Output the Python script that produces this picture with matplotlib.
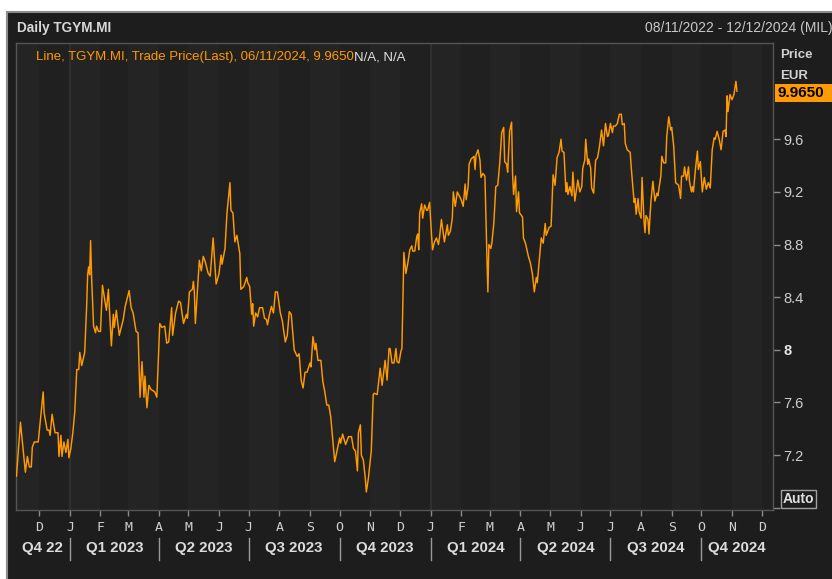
import numpy as np
import pandas as pd
import matplotlib
matplotlib.use("Agg")
import matplotlib.pyplot as plt
import matplotlib.dates as mdates
import matplotlib.transforms as mtransforms
from matplotlib.patches import Rectangle
from matplotlib.lines import Line2D

# ---------------- data ----------------
start_date = "2022-11-08"
day_offsets = [
    0, 4, 6, 9, 11, 13, 15, 16, 18, 22, 27, 28, 31, 33, 34, 36, 39, 42, 43, 45,
    46, 48, 50, 52, 53, 55, 57, 59, 61, 63, 64, 66, 69, 71, 72, 73, 74, 75, 76, 78,
    80, 81, 83, 85, 87, 91, 93, 96, 98, 99, 101, 104, 108, 110, 114, 116, 118, 121, 123, 125,
    127, 129, 130, 132, 134, 136, 140, 142, 145, 147, 150, 152, 154, 157, 158, 161, 164, 166, 169, 172,
    173, 175, 178, 179, 180, 181, 185, 187, 189, 191, 194, 196, 199, 202, 205, 207, 208, 211, 213, 216,
    217, 219, 221, 223, 226, 227, 230, 233, 234, 236, 238, 239, 240, 242, 244, 246, 249, 251, 253, 254,
    256, 258, 260, 262, 264, 265, 267, 269, 272, 274, 276, 278, 281, 284, 286, 288, 290, 292, 294, 297,
    298, 300, 302, 303, 305, 308, 310, 312, 314, 316, 318, 320, 322, 324, 327, 328, 330, 333, 336, 339,
    341, 343, 345, 346, 348, 349, 351, 353, 354, 356, 357, 359, 361, 362, 365, 368, 370, 373, 375, 377,
    378, 380, 382, 384, 385, 387, 389, 390, 392, 394, 396, 398, 400, 401, 403, 405, 406, 407, 408, 410,
    411, 413, 415, 416, 418, 420, 421, 423, 425, 427, 428, 430, 433, 436, 437, 439, 441, 442, 444, 446,
    448, 450, 452, 454, 455, 457, 458, 460, 463, 464, 465, 467, 469, 470, 472, 474, 476, 477, 478, 480,
    481, 483, 485, 487, 489, 491, 493, 494, 496, 497, 499, 501, 502, 503, 505, 506, 508, 509, 512, 513,
    515, 518, 520, 522, 524, 526, 527, 530, 531, 533, 535, 536, 539, 541, 543, 545, 547, 549, 551, 552,
    554, 556, 557, 558, 560, 562, 563, 565, 567, 568, 570, 572, 573, 575, 576, 578, 579, 581, 582, 584,
    586, 588, 590, 592, 594, 596, 598, 599, 601, 603, 604, 606, 608, 610, 612, 613, 615, 616, 618, 621,
    622, 625, 626, 627, 629, 630, 632, 633, 635, 636, 637, 639, 640, 642, 644, 646, 648, 649, 652, 653,
    655, 657, 658, 660, 662, 663, 665, 667, 670, 672, 673, 675, 676, 678, 680, 681, 683, 684, 685, 687,
    689, 690, 692, 693, 694, 696, 698, 700, 702, 704, 706, 707, 709, 711, 713, 715, 717, 718, 719, 720,
    722, 724, 726, 728, 729,
]
prices = [
    7.04, 7.45, 7.30, 7.07, 7.19, 7.11, 7.11, 7.26, 7.30, 7.30, 7.68, 7.52, 7.39, 7.39, 7.35, 7.51, 7.37, 7.37, 7.19, 7.35,
    7.19, 7.30, 7.22, 7.32, 7.18, 7.25, 7.37, 7.53, 7.85, 7.85, 7.98, 7.88, 7.98, 8.33, 8.57, 8.63, 8.57, 8.83, 8.55, 8.18,
    8.13, 8.18, 8.14, 8.14, 8.49, 8.30, 8.46, 8.03, 8.27, 8.17, 8.30, 8.11, 8.23, 8.33, 8.45, 8.32, 8.28, 8.14, 8.13, 7.64,
    7.91, 7.64, 7.80, 7.56, 7.73, 7.70, 7.68, 7.64, 8.20, 8.17, 8.18, 8.05, 8.06, 8.32, 8.11, 8.28, 8.37, 8.36, 8.20, 8.27,
    8.24, 8.44, 8.46, 8.52, 8.44, 8.20, 8.68, 8.60, 8.71, 8.67, 8.58, 8.56, 8.85, 8.50, 8.58, 8.72, 8.65, 8.77, 9.04, 9.27,
    9.06, 9.04, 8.82, 8.87, 8.73, 8.46, 8.48, 8.55, 8.51, 8.48, 8.27, 8.35, 8.18, 8.28, 8.25, 8.32, 8.32, 8.24, 8.23, 8.19,
    8.27, 8.33, 8.28, 8.44, 8.44, 8.39, 8.28, 8.22, 8.06, 8.11, 8.29, 8.27, 8.00, 7.95, 7.97, 7.77, 7.71, 7.83, 7.83, 7.90,
    7.87, 8.10, 8.00, 8.05, 7.92, 7.92, 7.76, 7.68, 7.58, 7.58, 7.49, 7.32, 7.15, 7.22, 7.33, 7.29, 7.36, 7.28, 7.34, 7.34,
    7.25, 7.23, 7.08, 7.37, 7.43, 7.20, 7.16, 7.02, 6.92, 7.02, 7.09, 7.23, 7.66, 7.67, 7.66, 7.86, 7.73, 7.92, 7.77, 8.01,
    8.01, 7.90, 7.90, 8.01, 7.91, 7.90, 7.99, 8.01, 8.74, 8.58, 8.66, 8.76, 8.79, 8.75, 8.75, 8.86, 8.88, 8.76, 9.04, 9.11,
    9.00, 9.10, 9.06, 9.06, 9.12, 8.87, 8.76, 8.82, 8.85, 8.80, 8.85, 8.99, 8.82, 8.95, 8.87, 8.90, 9.00, 9.20, 9.09, 9.20,
    9.17, 9.14, 9.09, 9.26, 9.14, 9.24, 9.41, 9.45, 9.47, 9.37, 9.48, 9.52, 9.44, 9.31, 9.34, 9.32, 8.71, 8.44, 8.80, 8.77,
    8.81, 8.96, 9.24, 9.25, 9.42, 9.65, 9.69, 9.43, 9.41, 9.35, 9.66, 9.73, 9.33, 9.18, 9.32, 9.05, 9.20, 9.04, 9.01, 8.85,
    8.81, 8.71, 8.66, 8.58, 8.44, 8.55, 8.51, 8.76, 8.85, 8.81, 8.96, 8.87, 8.93, 8.94, 9.33, 9.25, 9.46, 9.50, 9.60, 9.51,
    9.50, 9.20, 9.27, 9.18, 9.24, 9.17, 9.35, 9.13, 9.24, 9.29, 9.20, 9.24, 9.38, 9.44, 9.60, 9.41, 9.45, 9.38, 9.23, 9.19,
    9.44, 9.46, 9.55, 9.67, 9.55, 9.72, 9.62, 9.63, 9.72, 9.65, 9.70, 9.70, 9.72, 9.79, 9.79, 9.71, 9.72, 9.57, 9.52, 9.50,
    9.39, 9.12, 9.15, 9.03, 9.15, 9.05, 9.00, 9.31, 8.98, 8.89, 9.02, 8.99, 8.88, 9.13, 9.28, 9.13, 9.19, 9.17, 9.32, 9.47,
    9.42, 9.42, 9.62, 9.77, 9.67, 9.69, 9.55, 9.27, 9.25, 9.15, 9.32, 9.32, 9.39, 9.29, 9.39, 9.28, 9.20, 9.24, 9.20, 9.37,
    9.51, 9.37, 9.43, 9.31, 9.20, 9.31, 9.22, 9.27, 9.23, 9.52, 9.61, 9.60, 9.66, 9.60, 9.52, 9.66, 9.67, 9.62, 9.93, 9.81,
    9.94, 9.90, 9.94, 10.04, 9.965,
]
assert len(day_offsets) == len(prices)

last_price = 9.9650
last_date_label = "06/11/2024"
y_ticks = [7.2, 7.6, 8.0, 8.4, 8.8, 9.2, 9.6]
y_tick_labels = ["7.2", "7.6", "8", "8.4", "8.8", "9.2", "9.6"]
month_starts = pd.date_range("2022-12-01", "2024-12-01", freq="MS")
month_letters = [m.strftime("%b")[0] for m in month_starts]
quarter_starts = pd.date_range("2022-10-01", "2024-10-01", freq="QS")
quarter_labels = ["Q4 22", "Q1 2023", "Q2 2023", "Q3 2023", "Q4 2023",
                  "Q1 2024", "Q2 2024", "Q3 2024", "Q4 2024"]

dates = pd.Timestamp(start_date) + pd.to_timedelta(day_offsets, unit="D")
x_min = pd.Timestamp("2022-11-07")
x_max = pd.Timestamp("2024-12-12")

# ---------------- style ----------------
W, H = 832, 579
FONT = ["Liberation Sans", "DejaVu Sans"]
MONO = ["DejaVu Sans Mono"]
ORANGE = "#FF9A00"
TXT = "#cfcfcf"

def fx(px):
    return px / W

def fy(py):
    return (H - py) / H

fig = plt.figure(figsize=(W / 100, H / 100), dpi=100)
fig.patch.set_facecolor("white")

# outer dark panel
fig.patches.append(Rectangle((fx(7.5), -0.05), 1, fy(12) + 0.05, transform=fig.transFigure,
                             facecolor="#1d1d1d", edgecolor="#8c8c8c", lw=1.5, zorder=-5))

ax = fig.add_axes([fx(15.5), fy(510), fx(772.5) - fx(15.5), fy(42.5) - fy(510)])
ax.set_zorder(1)
ax.set_facecolor("#222222")
ax.set_xlim(x_min, x_max)
ax.set_ylim(6.783, 10.335)

# alternating monthly bands
band_edges = pd.date_range("2022-11-01", "2025-01-01", freq="MS")
for i in range(len(band_edges) - 1):
    col = "#242424" if i % 2 == 0 else "#202020"
    ax.axvspan(band_edges[i], band_edges[i + 1], color=col, lw=0, zorder=0)
for yb in ["2023-01-01", "2024-01-01"]:
    ax.axvline(pd.Timestamp(yb), color="#333333", lw=1.2, zorder=1)

ax.plot(dates, prices, color=ORANGE, lw=1.05, zorder=3)

for s in ax.spines.values():
    s.set_color("#555555")
    s.set_linewidth(1.0)

# y axis on right
ax.yaxis.tick_right()
ax.set_yticks(y_ticks + [6.8])
ax.set_yticklabels(y_tick_labels + [""])
ax.tick_params(axis="y", length=5, width=1, color="#8a8a8a", labelcolor=TXT,
               labelsize=10.5, pad=3)
for lab in ax.get_yticklabels():
    lab.set_family(FONT)
    if lab.get_text() == "8":
        lab.set_fontweight("bold")
        lab.set_color("#e6e6e6")

# x axis month letters
ax.set_xticks(month_starts)
ax.set_xticklabels(month_letters)
ax.tick_params(axis="x", length=4, width=1, color="#8a8a8a", labelcolor=TXT,
               labelsize=9.5, pad=4)
for lab in ax.get_xticklabels():
    lab.set_family(MONO)

# quarter labels and separators
btr = mtransforms.blended_transform_factory(ax.transData, fig.transFigure)
q_edges = list(quarter_starts) + [pd.Timestamp("2025-01-01")]
for i, lab in enumerate(quarter_labels):
    a = max(q_edges[i], x_min)
    b = min(q_edges[i + 1], x_max)
    mid = mdates.date2num(a + (b - a) / 2)
    ax.text(mid, fy(548), lab, transform=btr, ha="center", va="center",
            family=FONT, fontweight="bold", fontsize=10.8, color="#dcdcdc", clip_on=False)
for q in quarter_starts[1:]:
    qn = mdates.date2num(q)
    fig.add_artist(Line2D([qn, qn], [fy(560), fy(538)], transform=btr, color="#9a9a9a", lw=1))

# header texts
fig.text(fx(17), fy(28), "Daily TGYM.MI", family=FONT, fontweight="bold", fontsize=9.8,
         color="#d8d8d8", va="center", ha="left")
fig.text(fx(645), fy(28), "08/11/2022 - 12/12/2024 (MIL)", family=FONT, fontsize=10,
         color="#c8c8c8", va="center", ha="left")
leg = fig.text(fx(36), fy(57), f"Line, TGYM.MI, Trade Price(Last), {last_date_label}, {last_price:.4f}",
               family=FONT, fontsize=9.5, color=ORANGE, va="center", ha="left")
fig.canvas.draw()
bb = leg.get_window_extent()
fig.text(bb.x1 / fig.bbox.width, fy(57), "N/A, N/A", family=FONT, fontsize=9.5,
         color="#e0e0e0", va="center", ha="left")

fig.text(fx(780), fy(55), "Price", family=FONT, fontweight="bold", fontsize=9.5,
         color="#d0d0d0", va="center", ha="left")
fig.text(fx(780), fy(76), "EUR", family=FONT, fontweight="bold", fontsize=9.5,
         color="#d0d0d0", va="center", ha="left")
fig.patches.append(Rectangle((fx(775), fy(102)), fx(832) - fx(775), fy(84) - fy(102),
                             transform=fig.transFigure, facecolor=ORANGE, edgecolor="none", zorder=5))
fig.text(fx(777), fy(93), f"{last_price:.4f}", family=FONT, fontweight="bold", fontsize=11,
         color="black", va="center", ha="left", zorder=6)
fig.text(fx(783), fy(499), "Auto", family=FONT, fontweight="bold", fontsize=10,
         color="#e0e0e0", va="center", ha="left",
         bbox=dict(boxstyle="square,pad=0.12", facecolor="none", edgecolor="#a0a0a0", lw=1))

fig.savefig("out.png", dpi=100, facecolor=fig.get_facecolor())
